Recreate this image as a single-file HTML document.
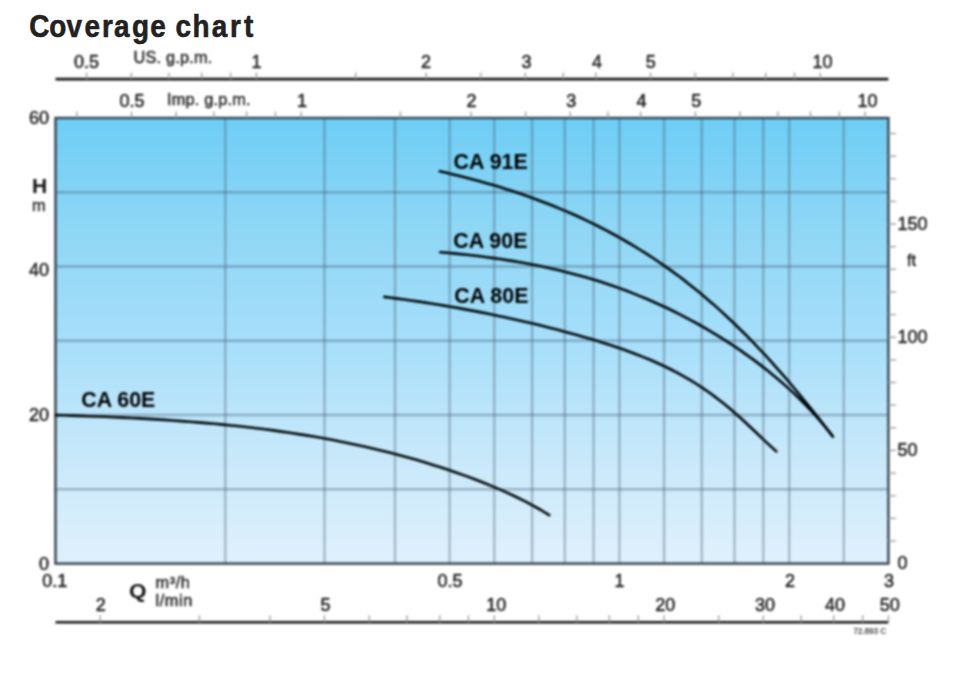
<!DOCTYPE html>
<html><head><meta charset="utf-8"><style>
html,body{margin:0;padding:0;background:#fff;width:967px;height:673px;overflow:hidden}
svg{position:absolute;left:0;top:0;filter:blur(0.8px)}
svg.t{filter:none}
.g{stroke:rgba(60,80,100,0.37);stroke-width:2.5}
.gv{stroke:rgba(60,80,100,0.35);stroke-width:2.4}
.fr{fill:none;stroke:#34424c;stroke-width:2.4}
.ax{stroke:#141414;stroke-width:2.6}
.tk{stroke:#a0a0a0;stroke-width:1.4}
.cv{fill:none;stroke:#000608;stroke-width:2.6;stroke-linecap:round;stroke-linejoin:round}
text{font-family:"Liberation Sans",sans-serif}
.tl{font-size:18px;fill:#262626;stroke:#262626;stroke-width:0.55px}
.ul{font-size:16.3px;fill:#262626;stroke:#262626;stroke-width:0.45px}
.wd{letter-spacing:0.6px}
.ls{letter-spacing:0.2px}
.H{font-size:21px;font-weight:bold;fill:#111}
.Q{font-size:20.5px;font-weight:bold;fill:#111}
.cl{font-size:21.4px;font-weight:bold;fill:#000}
.sm{font-size:8.5px;fill:#555;font-weight:bold;letter-spacing:-0.2px}
.ti{font-size:31px;font-weight:bold;fill:#222;stroke:#222;stroke-width:0.6px}
</style></head><body>
<svg width="967" height="673" viewBox="0 0 967 673">
<defs><linearGradient id="bg" gradientUnits="userSpaceOnUse" x1="0" y1="118.0" x2="0" y2="563.6"><stop offset="0.016" stop-color="rgb(112, 206, 245)"/><stop offset="0.251" stop-color="rgb(143, 215, 245)"/><stop offset="0.487" stop-color="rgb(165, 222, 250)"/><stop offset="0.745" stop-color="rgb(198, 232, 250)"/><stop offset="0.981" stop-color="rgb(222, 240, 252)"/></linearGradient></defs>
<rect x="55.5" y="118.0" width="832.9" height="445.6" fill="url(#bg)"/>
<line x1="225.3" y1="118.0" x2="225.3" y2="563.6" class="gv"/>
<line x1="324.5" y1="118.0" x2="324.5" y2="563.6" class="gv"/>
<line x1="395.0" y1="118.0" x2="395.0" y2="563.6" class="gv"/>
<line x1="449.6" y1="118.0" x2="449.6" y2="563.6" class="gv"/>
<line x1="494.3" y1="118.0" x2="494.3" y2="563.6" class="gv"/>
<line x1="532.1" y1="118.0" x2="532.1" y2="563.6" class="gv"/>
<line x1="564.8" y1="118.0" x2="564.8" y2="563.6" class="gv"/>
<line x1="593.6" y1="118.0" x2="593.6" y2="563.6" class="gv"/>
<line x1="619.4" y1="118.0" x2="619.4" y2="563.6" class="gv"/>
<line x1="664.1" y1="118.0" x2="664.1" y2="563.6" class="gv"/>
<line x1="701.8" y1="118.0" x2="701.8" y2="563.6" class="gv"/>
<line x1="734.5" y1="118.0" x2="734.5" y2="563.6" class="gv"/>
<line x1="763.3" y1="118.0" x2="763.3" y2="563.6" class="gv"/>
<line x1="789.2" y1="118.0" x2="789.2" y2="563.6" class="gv"/>
<line x1="843.8" y1="118.0" x2="843.8" y2="563.6" class="gv"/>
<line x1="55.5" y1="489.3" x2="888.4" y2="489.3" class="g"/>
<line x1="55.5" y1="415.1" x2="888.4" y2="415.1" class="g"/>
<line x1="55.5" y1="340.8" x2="888.4" y2="340.8" class="g"/>
<line x1="55.5" y1="266.5" x2="888.4" y2="266.5" class="g"/>
<line x1="55.5" y1="192.3" x2="888.4" y2="192.3" class="g"/>
<rect x="55.5" y="118.0" width="832.9" height="445.6" class="fr"/>
<line x1="55.5" y1="79.1" x2="888.4" y2="79.1" class="ax"/>
<line x1="86.6" y1="72.6" x2="86.6" y2="79.1" class="tk"/>
<line x1="131.3" y1="72.6" x2="131.3" y2="79.1" class="tk"/>
<line x1="169.0" y1="72.6" x2="169.0" y2="79.1" class="tk"/>
<line x1="201.7" y1="72.6" x2="201.7" y2="79.1" class="tk"/>
<line x1="230.6" y1="72.6" x2="230.6" y2="79.1" class="tk"/>
<line x1="256.4" y1="72.6" x2="256.4" y2="79.1" class="tk"/>
<line x1="355.7" y1="72.6" x2="355.7" y2="79.1" class="tk"/>
<line x1="426.1" y1="72.6" x2="426.1" y2="79.1" class="tk"/>
<line x1="480.8" y1="72.6" x2="480.8" y2="79.1" class="tk"/>
<line x1="525.4" y1="72.6" x2="525.4" y2="79.1" class="tk"/>
<line x1="563.2" y1="72.6" x2="563.2" y2="79.1" class="tk"/>
<line x1="595.9" y1="72.6" x2="595.9" y2="79.1" class="tk"/>
<line x1="650.5" y1="72.6" x2="650.5" y2="79.1" class="tk"/>
<line x1="695.2" y1="72.6" x2="695.2" y2="79.1" class="tk"/>
<line x1="732.9" y1="72.6" x2="732.9" y2="79.1" class="tk"/>
<line x1="765.6" y1="72.6" x2="765.6" y2="79.1" class="tk"/>
<line x1="794.5" y1="72.6" x2="794.5" y2="79.1" class="tk"/>
<line x1="820.3" y1="72.6" x2="820.3" y2="79.1" class="tk"/>
<text x="86.4" y="67.9" class="tl" text-anchor="middle">0.5</text>
<text x="256.5" y="67.9" class="tl" text-anchor="middle">1</text>
<text x="426.1" y="67.9" class="tl" text-anchor="middle">2</text>
<text x="526.5" y="67.9" class="tl" text-anchor="middle">3</text>
<text x="596.9" y="67.9" class="tl" text-anchor="middle">4</text>
<text x="650.8" y="67.9" class="tl" text-anchor="middle">5</text>
<text x="822.4" y="67.9" class="tl" text-anchor="middle">10</text>
<text x="133.5" y="62.6" class="ul ls">US. g.p.m.</text>
<line x1="76.8" y1="111.5" x2="76.8" y2="118.0" class="tk"/>
<line x1="131.5" y1="111.5" x2="131.5" y2="118.0" class="tk"/>
<line x1="176.1" y1="111.5" x2="176.1" y2="118.0" class="tk"/>
<line x1="213.9" y1="111.5" x2="213.9" y2="118.0" class="tk"/>
<line x1="246.6" y1="111.5" x2="246.6" y2="118.0" class="tk"/>
<line x1="275.4" y1="111.5" x2="275.4" y2="118.0" class="tk"/>
<line x1="301.2" y1="111.5" x2="301.2" y2="118.0" class="tk"/>
<line x1="400.5" y1="111.5" x2="400.5" y2="118.0" class="tk"/>
<line x1="471.0" y1="111.5" x2="471.0" y2="118.0" class="tk"/>
<line x1="525.6" y1="111.5" x2="525.6" y2="118.0" class="tk"/>
<line x1="570.3" y1="111.5" x2="570.3" y2="118.0" class="tk"/>
<line x1="608.0" y1="111.5" x2="608.0" y2="118.0" class="tk"/>
<line x1="640.7" y1="111.5" x2="640.7" y2="118.0" class="tk"/>
<line x1="695.4" y1="111.5" x2="695.4" y2="118.0" class="tk"/>
<line x1="740.0" y1="111.5" x2="740.0" y2="118.0" class="tk"/>
<line x1="777.8" y1="111.5" x2="777.8" y2="118.0" class="tk"/>
<line x1="810.5" y1="111.5" x2="810.5" y2="118.0" class="tk"/>
<line x1="839.3" y1="111.5" x2="839.3" y2="118.0" class="tk"/>
<line x1="865.1" y1="111.5" x2="865.1" y2="118.0" class="tk"/>
<text x="132" y="107" class="tl" text-anchor="middle">0.5</text>
<text x="302" y="107" class="tl" text-anchor="middle">1</text>
<text x="471.6" y="107" class="tl" text-anchor="middle">2</text>
<text x="571.2" y="107" class="tl" text-anchor="middle">3</text>
<text x="641.5" y="107" class="tl" text-anchor="middle">4</text>
<text x="696.2" y="107" class="tl" text-anchor="middle">5</text>
<text x="867.6" y="107" class="tl" text-anchor="middle">10</text>
<text x="167" y="104.6" class="ul ls">Imp. g.p.m.</text>
<line x1="888.4" y1="541.0" x2="895.9" y2="541.0" class="tk"/>
<line x1="888.4" y1="518.3" x2="895.9" y2="518.3" class="tk"/>
<line x1="888.4" y1="495.7" x2="895.9" y2="495.7" class="tk"/>
<line x1="888.4" y1="473.1" x2="895.9" y2="473.1" class="tk"/>
<line x1="888.4" y1="450.4" x2="895.9" y2="450.4" class="tk"/>
<line x1="888.4" y1="427.8" x2="895.9" y2="427.8" class="tk"/>
<line x1="888.4" y1="405.1" x2="895.9" y2="405.1" class="tk"/>
<line x1="888.4" y1="382.5" x2="895.9" y2="382.5" class="tk"/>
<line x1="888.4" y1="359.9" x2="895.9" y2="359.9" class="tk"/>
<line x1="888.4" y1="337.2" x2="895.9" y2="337.2" class="tk"/>
<line x1="888.4" y1="314.6" x2="895.9" y2="314.6" class="tk"/>
<line x1="888.4" y1="292.0" x2="895.9" y2="292.0" class="tk"/>
<line x1="888.4" y1="269.3" x2="895.9" y2="269.3" class="tk"/>
<line x1="888.4" y1="246.7" x2="895.9" y2="246.7" class="tk"/>
<line x1="888.4" y1="224.0" x2="895.9" y2="224.0" class="tk"/>
<line x1="888.4" y1="201.4" x2="895.9" y2="201.4" class="tk"/>
<line x1="888.4" y1="178.8" x2="895.9" y2="178.8" class="tk"/>
<line x1="888.4" y1="156.1" x2="895.9" y2="156.1" class="tk"/>
<line x1="888.4" y1="133.5" x2="895.9" y2="133.5" class="tk"/>
<text x="897.5" y="230.3" class="tl">150</text>
<text x="897.5" y="342.9" class="tl">100</text>
<text x="897.5" y="456.2" class="tl">50</text>
<text x="897.5" y="569.4" class="tl">0</text>
<text x="907" y="266" class="ul">ft</text>
<text x="49" y="124.1" class="tl" text-anchor="end">60</text>
<text x="49" y="276.4" class="tl" text-anchor="end">40</text>
<text x="49" y="421" class="tl" text-anchor="end">20</text>
<text x="49" y="570.3" class="tl" text-anchor="end">0</text>
<text x="32" y="193.3" class="H">H</text>
<text x="32" y="211" class="ul">m</text>
<text x="54.8" y="586.6" class="tl" text-anchor="middle">0.1</text>
<text x="450" y="586.6" class="tl" text-anchor="middle">0.5</text>
<text x="619.5" y="586.6" class="tl" text-anchor="middle">1</text>
<text x="790" y="586.6" class="tl" text-anchor="middle">2</text>
<text x="889" y="586.6" class="tl" text-anchor="middle">3</text>
<line x1="55.5" y1="622.2" x2="888.4" y2="622.2" class="ax"/>
<line x1="100.2" y1="615.2" x2="100.2" y2="622.2" class="tk"/>
<line x1="199.4" y1="615.2" x2="199.4" y2="622.2" class="tk"/>
<line x1="269.9" y1="615.2" x2="269.9" y2="622.2" class="tk"/>
<line x1="324.5" y1="615.2" x2="324.5" y2="622.2" class="tk"/>
<line x1="369.2" y1="615.2" x2="369.2" y2="622.2" class="tk"/>
<line x1="407.0" y1="615.2" x2="407.0" y2="622.2" class="tk"/>
<line x1="439.7" y1="615.2" x2="439.7" y2="622.2" class="tk"/>
<line x1="468.5" y1="615.2" x2="468.5" y2="622.2" class="tk"/>
<line x1="494.3" y1="615.2" x2="494.3" y2="622.2" class="tk"/>
<line x1="538.9" y1="615.2" x2="538.9" y2="622.2" class="tk"/>
<line x1="576.7" y1="615.2" x2="576.7" y2="622.2" class="tk"/>
<line x1="609.4" y1="615.2" x2="609.4" y2="622.2" class="tk"/>
<line x1="638.2" y1="615.2" x2="638.2" y2="622.2" class="tk"/>
<line x1="664.1" y1="615.2" x2="664.1" y2="622.2" class="tk"/>
<line x1="718.7" y1="615.2" x2="718.7" y2="622.2" class="tk"/>
<line x1="763.3" y1="615.2" x2="763.3" y2="622.2" class="tk"/>
<line x1="801.1" y1="615.2" x2="801.1" y2="622.2" class="tk"/>
<line x1="833.8" y1="615.2" x2="833.8" y2="622.2" class="tk"/>
<line x1="862.6" y1="615.2" x2="862.6" y2="622.2" class="tk"/>
<line x1="888.4" y1="615.2" x2="888.4" y2="622.2" class="tk"/>
<text x="100.8" y="610.7" class="tl" text-anchor="middle">2</text>
<text x="325.5" y="610.7" class="tl" text-anchor="middle">5</text>
<text x="496.3" y="610.7" class="tl" text-anchor="middle">10</text>
<text x="665.2" y="610.7" class="tl" text-anchor="middle">20</text>
<text x="765.1" y="610.7" class="tl" text-anchor="middle">30</text>
<text x="835.1" y="610.7" class="tl" text-anchor="middle">40</text>
<text x="889.8" y="610.7" class="tl" text-anchor="middle">50</text>
<text transform="translate(128.9,597.8) scale(1.1,1)" class="Q">Q</text>
<text x="155.5" y="587.8" class="ul wd">m³/h</text>
<text x="155.5" y="606.4" class="ul wd">l/min</text>
<text x="853.3" y="634.4" class="sm">72.893 C</text>
<path d="M439.8,171.3 L446.5,172.8 L453.1,174.4 L459.8,176.0 L466.4,177.7 L473.1,179.5 L479.8,181.3 L486.4,183.2 L493.1,185.1 L499.7,187.1 L506.4,189.2 L513.1,191.3 L519.7,193.5 L526.4,195.8 L533.1,198.2 L539.7,200.7 L546.4,203.2 L553.0,205.8 L559.7,208.6 L566.4,211.4 L573.0,214.3 L579.7,217.3 L586.3,220.4 L593.0,223.6 L599.7,227.0 L606.3,230.4 L613.0,234.0 L619.6,237.7 L626.3,241.5 L633.0,245.4 L639.6,249.5 L646.3,253.7 L653.0,258.0 L659.6,262.5 L666.3,267.1 L672.9,271.9 L679.6,276.8 L686.3,281.9 L692.9,287.2 L699.6,292.6 L706.2,298.2 L712.9,303.9 L719.6,309.9 L726.2,316.0 L732.9,322.2 L739.5,328.7 L746.2,335.3 L752.9,342.1 L759.5,349.1 L766.2,356.2 L772.9,363.6 L779.5,371.1 L786.2,378.7 L792.8,386.5 L799.5,394.5 L806.2,402.7 L812.8,410.9 L819.5,419.3 L826.1,427.8 L832.8,436.4" class="cv"/>
<path d="M440.3,252.2 L447.0,252.8 L453.6,253.4 L460.3,254.1 L466.9,254.8 L473.6,255.5 L480.2,256.3 L486.9,257.2 L493.5,258.1 L500.2,259.0 L506.8,260.1 L513.5,261.1 L520.1,262.3 L526.8,263.5 L533.4,264.7 L540.1,266.1 L546.7,267.5 L553.4,269.0 L560.0,270.5 L566.7,272.2 L573.4,273.9 L580.0,275.7 L586.7,277.6 L593.3,279.5 L600.0,281.6 L606.6,283.8 L613.3,286.0 L619.9,288.4 L626.6,290.8 L633.2,293.4 L639.9,296.1 L646.5,298.8 L653.2,301.7 L659.8,304.7 L666.5,307.8 L673.1,311.0 L679.8,314.3 L686.4,317.8 L693.1,321.3 L699.7,325.0 L706.4,328.8 L713.1,332.8 L719.7,336.9 L726.4,341.1 L733.0,345.4 L739.7,349.9 L746.3,354.6 L753.0,359.4 L759.6,364.4 L766.3,369.6 L772.9,375.0 L779.6,380.5 L786.2,386.4 L792.9,392.4 L799.5,398.8 L806.2,405.5 L812.8,412.6 L819.5,420.1 L826.1,428.0 L832.8,436.5" class="cv"/>
<path d="M384.3,296.9 L390.9,297.8 L397.6,298.6 L404.2,299.5 L410.9,300.5 L417.5,301.4 L424.2,302.4 L430.8,303.5 L437.5,304.5 L444.1,305.6 L450.7,306.8 L457.4,307.9 L464.0,309.1 L470.7,310.4 L477.3,311.6 L484.0,312.9 L490.6,314.3 L497.2,315.7 L503.9,317.1 L510.5,318.5 L517.2,320.0 L523.8,321.5 L530.5,323.1 L537.1,324.6 L543.8,326.3 L550.4,327.9 L557.0,329.6 L563.7,331.4 L570.3,333.2 L577.0,335.0 L583.6,336.9 L590.3,338.8 L596.9,340.8 L603.6,342.9 L610.2,345.0 L616.8,347.3 L623.5,349.6 L630.1,352.0 L636.8,354.5 L643.4,357.1 L650.1,359.8 L656.7,362.7 L663.4,365.8 L670.0,369.0 L676.6,372.4 L683.3,376.1 L689.9,379.9 L696.6,384.0 L703.2,388.4 L709.9,393.0 L716.5,397.9 L723.1,403.1 L729.8,408.6 L736.4,414.3 L743.1,420.3 L749.7,426.5 L756.4,432.8 L763.0,439.1 L769.7,445.4 L776.3,451.4" class="cv"/>
<path d="M55.8,415.1 L64.2,415.3 L72.5,415.6 L80.9,415.9 L89.3,416.2 L97.6,416.5 L106.0,416.8 L114.4,417.2 L122.7,417.6 L131.1,418.0 L139.4,418.4 L147.8,418.9 L156.2,419.4 L164.5,419.9 L172.9,420.5 L181.3,421.1 L189.6,421.7 L198.0,422.4 L206.4,423.1 L214.7,423.8 L223.1,424.6 L231.5,425.5 L239.8,426.3 L248.2,427.3 L256.5,428.3 L264.9,429.3 L273.3,430.4 L281.6,431.6 L290.0,432.8 L298.4,434.1 L306.7,435.4 L315.1,436.8 L323.5,438.3 L331.8,439.8 L340.2,441.5 L348.6,443.2 L356.9,444.9 L365.3,446.8 L373.6,448.7 L382.0,450.7 L390.4,452.8 L398.7,455.0 L407.1,457.3 L415.5,459.6 L423.8,462.1 L432.2,464.7 L440.6,467.3 L448.9,470.1 L457.3,472.9 L465.7,475.9 L474.0,479.0 L482.4,482.2 L490.7,485.6 L499.1,489.1 L507.5,492.9 L515.8,496.8 L524.2,500.9 L532.6,505.3 L540.9,510.0 L549.3,515.1" class="cv"/>
<text x="453.6" y="168.9" class="cl">CA 91E</text>
<text x="453.3" y="248" class="cl">CA 90E</text>
<text x="454.3" y="302.5" class="cl">CA 80E</text>
<text x="81.2" y="406.6" class="cl">CA 60E</text>
</svg>
<svg class="t" width="967" height="60" viewBox="0 0 967 60"><text transform="scale(0.9,1)" x="32.65 54.70 73.89 93.80 113.24 126.77 146.60 166.86 185 195.06 213.86 235.33 255.63 271.06" y="37" class="ti">Coverage chart</text></svg>
</body></html>
